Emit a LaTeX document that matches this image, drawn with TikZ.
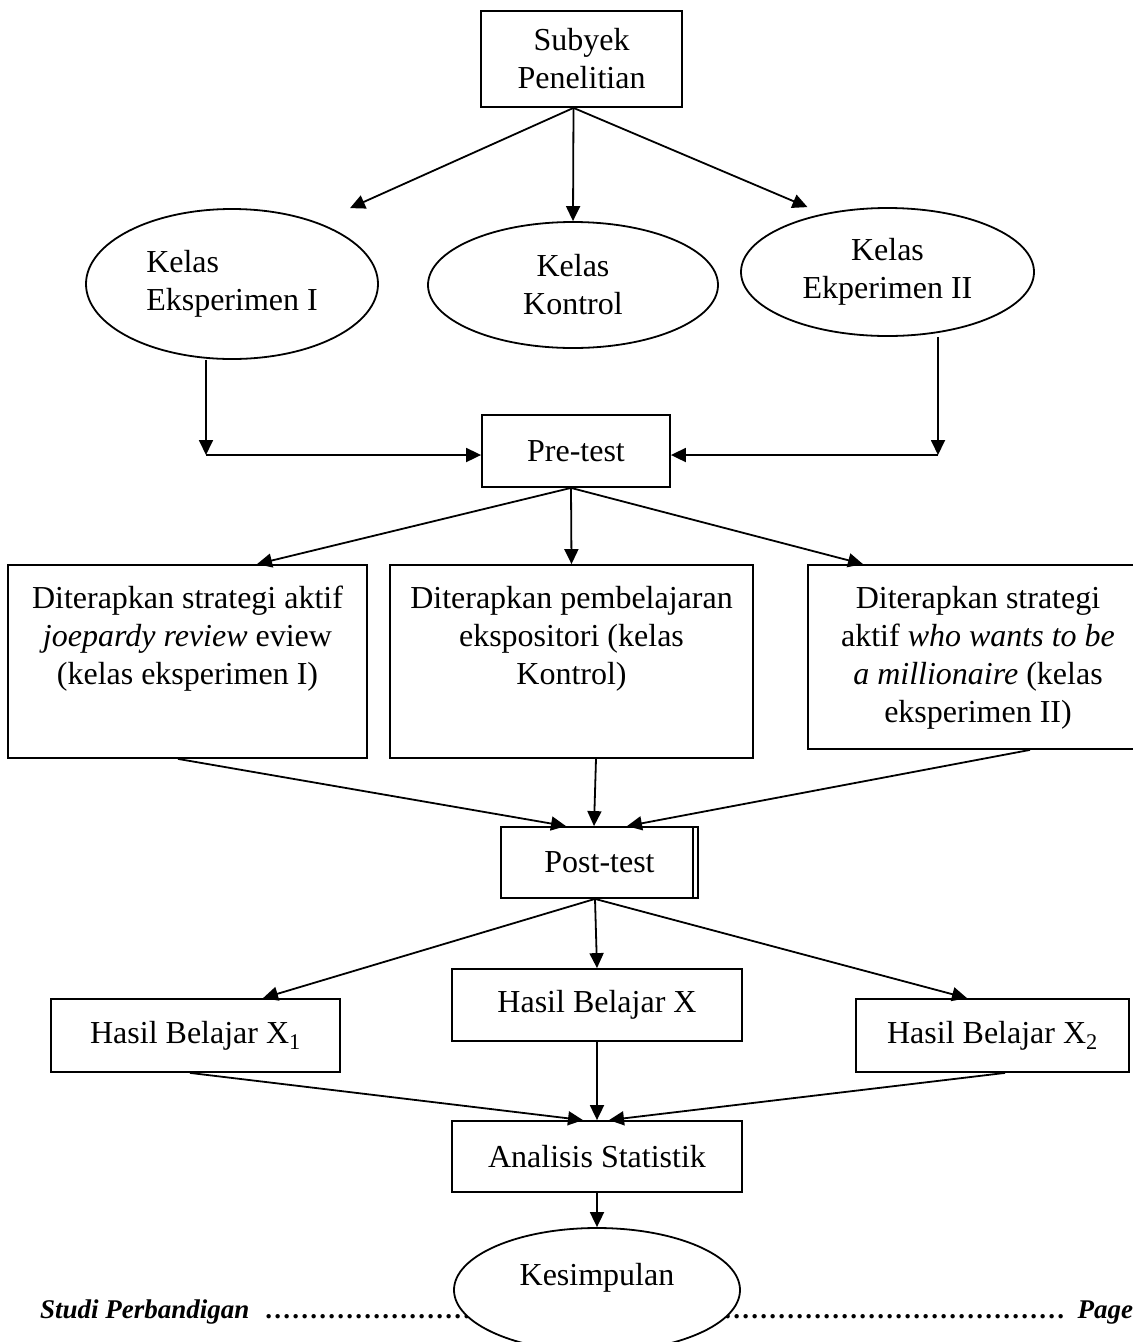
\documentclass[tikz,border=0pt]{standalone}
\usepackage{fontspec}
\setmainfont{Liberation Serif}
\usepackage{tikz}
\usetikzlibrary{shapes,arrows.meta,positioning,calc}

\tikzset{
	kotak/.style={draw, rectangle, line width=1.8pt, inner sep=0pt, align=center},
	oval/.style={draw, ellipse, line width=1.8pt, inner sep=0pt, align=center},
	panah/.style={-{Triangle[length=15pt,width=14pt]}, line width=1.8pt}
}

\begin{document}
\begin{tikzpicture}[x=1pt, y=-1pt, font=\fontsize{32}{38}\selectfont]
				\useasboundingbox (0,0) rectangle (1133,1342);
				\clip (0,0) rectangle (1133,1342);
				\fill[white] (0,0) rectangle (1133,1342);
				
				% Draw page footer
				\node[anchor=base west, inner sep=0pt, font=\fontsize{27}{30}\selectfont\bfseries\itshape] (footer) at (40,1318)
					{\hbox to 1093pt{Studi Perbandigan \leaders\hbox to 9pt{\hss.\hss}\hfill\ Page}};
				
				% Draw subject and classes
				\node[kotak, minimum width=201pt, minimum height=96pt] (subyek) at (581.5,59) {Subyek\\Penelitian};
				\node[oval, align=left, minimum width=292pt, minimum height=150pt] (eks1) at (232,284) {Kelas\\Eksperimen I};
				\node[oval, minimum width=290pt, minimum height=126pt] (kontrol) at (573,285) {Kelas\\Kontrol};
				\node[oval, minimum width=293pt, minimum height=128pt] (eks2) at (887.5,272) {Kelas\\Ekperimen II};
				
				% Draw pre-test
				\node[kotak, minimum width=188pt, minimum height=72pt] (pretest) at (576,451) {Pre-test};
				\coordinate (siku1) at (206,455);
				\coordinate (siku2) at (938,455);
				
				% Draw treatments
				\node[kotak, minimum width=359pt, minimum height=193pt] (aktif1) at (187.5,661.5)
					{\parbox[c][151pt][t]{349pt}{\centering Diterapkan strategi aktif\\ \emph{joepardy review} eview\\ (kelas eksperimen I)}};
				\node[kotak, minimum width=363pt, minimum height=193pt] (ekspos) at (571.5,661.5)
					{\parbox[c][151pt][t]{353pt}{\centering Diterapkan pembelajaran\\ ekspositori (kelas\\ Kontrol)}};
				\node[kotak, minimum width=340pt, minimum height=184pt] (aktif2) at (978,657)
					{\parbox[c][142pt][t]{330pt}{\centering Diterapkan strategi\\ aktif \emph{who wants to be}\\ \emph{a millionaire} (kelas\\ eksperimen II)}};
				
				% Draw post-test with double edge
				\node[kotak, minimum width=197pt, minimum height=71pt] (posttest) at (599.5,862.5) {Post-test};
				\draw[line width=1.8pt] ([xshift=-6pt]posttest.north east) -- ([xshift=-6pt]posttest.south east);
				
				% Draw results
				\node[kotak, minimum width=289pt, minimum height=73pt] (hasil1) at (195.5,1035.5) {Hasil Belajar X\textsubscript{1}};
				\node[kotak, minimum width=290pt, minimum height=72pt] (hasil) at (597,1005) {Hasil Belajar X};
				\node[kotak, minimum width=273pt, minimum height=73pt] (hasil2) at (992.5,1035.5) {Hasil Belajar X\textsubscript{2}};
				\node[kotak, minimum width=290pt, minimum height=71pt] (analisis) at (597,1156.5) {Analisis Statistik};
				\node[oval, fill=white, minimum width=286pt, minimum height=124pt] (kesimpulan) at (597,1290)
					{\raisebox{12pt}[\height][\depth]{Kesimpulan}};
				
				% Draw arrows
				\draw[panah] ([xshift=-8pt]subyek.south) -- ([xshift=118pt]eks1.north);
				\draw[panah] ([xshift=-8pt]subyek.south) -- (kontrol.north);
				\draw[panah] ([xshift=-8pt]subyek.south) -- ([xshift=-80pt]eks2.north);
				\draw[panah] ([xshift=-26pt]eks1.south) -- (siku1);
				\draw[panah] ([xshift=50.5pt]eks2.south) -- (siku2);
				\draw[panah] (siku1) -- (siku1 -| pretest.west);
				\draw[panah] (siku2) -- (siku2 -| pretest.east);
				\draw[panah] ([xshift=-5pt]pretest.south) -- ([xshift=69.5pt]aktif1.north);
				\draw[panah] ([xshift=-5pt]pretest.south) -- (ekspos.north);
				\draw[panah] ([xshift=-5pt]pretest.south) -- ([xshift=-115pt]aktif2.north);
				\draw[panah] ([xshift=-9.5pt]aktif1.south) -- ([xshift=-33.5pt]posttest.north);
				\draw[panah] ([xshift=24.5pt]ekspos.south) -- ([xshift=-5.5pt]posttest.north);
				\draw[panah] ([xshift=52pt]aktif2.south) -- ([xshift=27.5pt]posttest.north);
				\draw[panah] ([xshift=-4.5pt]posttest.south) -- ([xshift=67.5pt]hasil1.north);
				\draw[panah] ([xshift=-4.5pt]posttest.south) -- (hasil.north);
				\draw[panah] ([xshift=-4.5pt]posttest.south) -- ([xshift=-25.5pt]hasil2.north);
				\draw[panah] ([xshift=-5.5pt]hasil1.south) -- ([xshift=-14pt]analisis.north);
				\draw[panah] (hasil.south) -- (analisis.north);
				\draw[panah] ([xshift=12.5pt]hasil2.south) -- ([xshift=12pt]analisis.north);
				\draw[panah] (analisis.south) -- (kesimpulan.north);
\end{tikzpicture}
\end{document}
